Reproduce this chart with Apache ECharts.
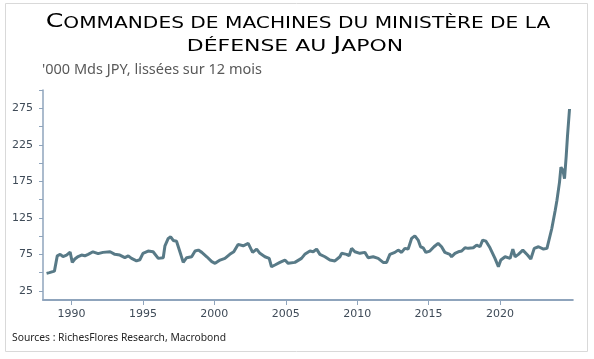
<!DOCTYPE html>
<html><head><meta charset="utf-8">
<script src="https://cdn.jsdelivr.net/npm/echarts@6/dist/echarts.min.js"></script>
<style>html,body{margin:0;padding:0;background:#fff}#c{width:594px;height:359px}</style>
</head><body><div id="c"></div>
<script>
const dates = [1988.25,1988.45,1988.8,1989.0,1989.2,1989.4,1989.65,1989.9,1990.05,1990.23,1990.46,1990.7,1990.93,1991.16,1991.5,1991.86,1992.2,1992.7,1993.03,1993.38,1993.73,1993.97,1994.2,1994.55,1994.78,1995.0,1995.36,1995.71,1996.07,1996.42,1996.54,1996.77,1996.94,1997.12,1997.35,1997.47,1997.66,1997.82,1998.06,1998.41,1998.65,1998.88,1999.12,1999.47,1999.82,2000.05,2000.4,2000.74,2001.08,2001.36,2001.66,2002.02,2002.37,2002.68,2002.96,2003.19,2003.54,2003.84,2004.0,2004.24,2004.59,2004.94,2005.17,2005.64,2006.1,2006.33,2006.69,2006.92,2007.16,2007.39,2007.74,2008.09,2008.44,2008.79,2008.91,2009.26,2009.44,2009.61,2009.84,2010.19,2010.54,2010.77,2011.12,2011.47,2011.82,2012.06,2012.29,2012.64,2012.87,2013.11,2013.34,2013.57,2013.81,2014.04,2014.27,2014.44,2014.62,2014.81,2015.09,2015.38,2015.67,2015.91,2016.14,2016.49,2016.61,2016.85,2017.08,2017.32,2017.55,2017.78,2018.13,2018.37,2018.6,2018.79,2019.02,2019.3,2019.65,2019.89,2020.06,2020.36,2020.71,2020.9,2021.06,2021.29,2021.6,2021.93,2022.16,2022.4,2022.7,2023.05,2023.29,2023.4,2023.63,2023.87,2023.99,2024.17,2024.27,2024.41,2024.52,2024.64,2024.73,2024.87];
const values = [49,50,52,73,75,72,74,78,64,68.6,72,74,73,75,78.5,76,77.7,78.5,75,74,70.5,73,69.5,66,67.6,76.4,79.5,78.5,69.5,70.4,86.7,96.8,99,94,93,94.5,74,64,70.4,71.7,79.5,80.8,77.7,71.7,65,62.7,67.2,69.5,75,78.5,88.6,86.7,90,77.7,82.2,76.4,71.7,69.5,58,60.4,64,67.2,62.7,64,69.5,75,79.5,78.5,82.2,75,71.7,67.2,66,71.7,76.4,75,73,83.2,78.5,76.4,77.7,70.4,71.7,69.5,64,64,75,77.7,80.8,77.7,83.2,82.2,96.8,100.3,94.5,85.4,84,77.7,79.5,85.4,90,85.4,77.7,75,71.7,76.4,78.5,79.5,84,83.2,84,87.7,85.4,94.5,93,84,69.5,58,67.2,71.7,69.5,82.2,71.7,75,80.8,74,68.6,83.2,85.4,82.2,83.2,80.8,110.4,135.3,149,173.9,194.3,190,178.5,210,237.5,274];
const xTickLabels = [1990,1995,2000,2005,2010,2015,2020];
const yTickLabels = [25,75,125,175,225,275];
const yTicks = [25,50,75,100,125,150,175,200,225,250,275,300];
const titleLine1 = ['C','OMMANDES DE MACHINES DU MINISTÈRE DE LA'];
const titleLine2 = ['DÉFENSE AU ','J','APON'];
const subtitle = "'000 Mds JPY, lissées sur 12 mois";
const source = 'Sources : RichesFlores Research, Macrobond';

const chart = echarts.init(document.getElementById('c'), null, {renderer:'canvas'});
const titleColor = '#3d5566';
const rich = {
  b:{fontFamily:'DejaVu Sans',fontSize:20,color:titleColor,verticalAlign:'bottom'},
  s:{fontFamily:'DejaVu Sans',fontSize:16,color:titleColor,verticalAlign:'bottom'}
};
chart.setOption({
  animation:false,
  graphic:[
    {type:'rect',shape:{x:5.5,y:3.5,width:582,height:348},style:{fill:'none',stroke:'#d9d9d9',lineWidth:1}},
    {type:'text',x:298,y:22,scaleX:1.26,style:{text:'{b|'+titleLine1[0]+'}{s|'+titleLine1[1]+'}',rich:rich,align:'center',verticalAlign:'middle'}},
    {type:'text',x:295,y:45,scaleX:1.37,style:{text:'{s|'+titleLine2[0]+'}{b|'+titleLine2[1]+'}{s|'+titleLine2[2]+'}',rich:rich,align:'center',verticalAlign:'middle'}},
    {type:'text',x:42,y:70,style:{text:subtitle,fontFamily:'Noto Sans',fontSize:14.5,fill:'#595959',verticalAlign:'middle'}},
    {type:'text',x:12,y:338,style:{text:source,fontFamily:'Noto Sans',fontSize:10.3,fill:'#262626',verticalAlign:'middle'}}
  ],
  grid:{left:43,right:21.2,top:90,bottom:59,containLabel:false},
  xAxis:{type:'value',min:1988,max:2025.1,
    axisLine:{show:true,lineStyle:{color:'#8fa4bc',width:2}},
    axisTick:{show:true,customValues:xTickLabels,length:5,lineStyle:{color:'#8fa4bc',width:1}},
    axisLabel:{customValues:xTickLabels,margin:9,fontFamily:'DejaVu Sans',fontSize:11,color:'#3f4b58',formatter:v=>String(v)},
    splitLine:{show:false}},
  yAxis:{type:'value',min:12.5,max:300,
    axisLine:{show:true,lineStyle:{color:'#8fa4bc',width:1.5}},
    axisTick:{show:true,customValues:yTicks,length:4,lineStyle:{color:'#8fa4bc',width:1}},
    axisLabel:{customValues:yTickLabels,margin:10,fontFamily:'DejaVu Sans',fontSize:11,color:'#3f4b58'},
    splitLine:{show:false}},
  series:[{type:'line',data:dates.map((d,i)=>[d,values[i]]),showSymbol:false,
    lineStyle:{color:'#587a87',width:3},itemStyle:{color:'#587a87'}}]
});
</script></body></html>
